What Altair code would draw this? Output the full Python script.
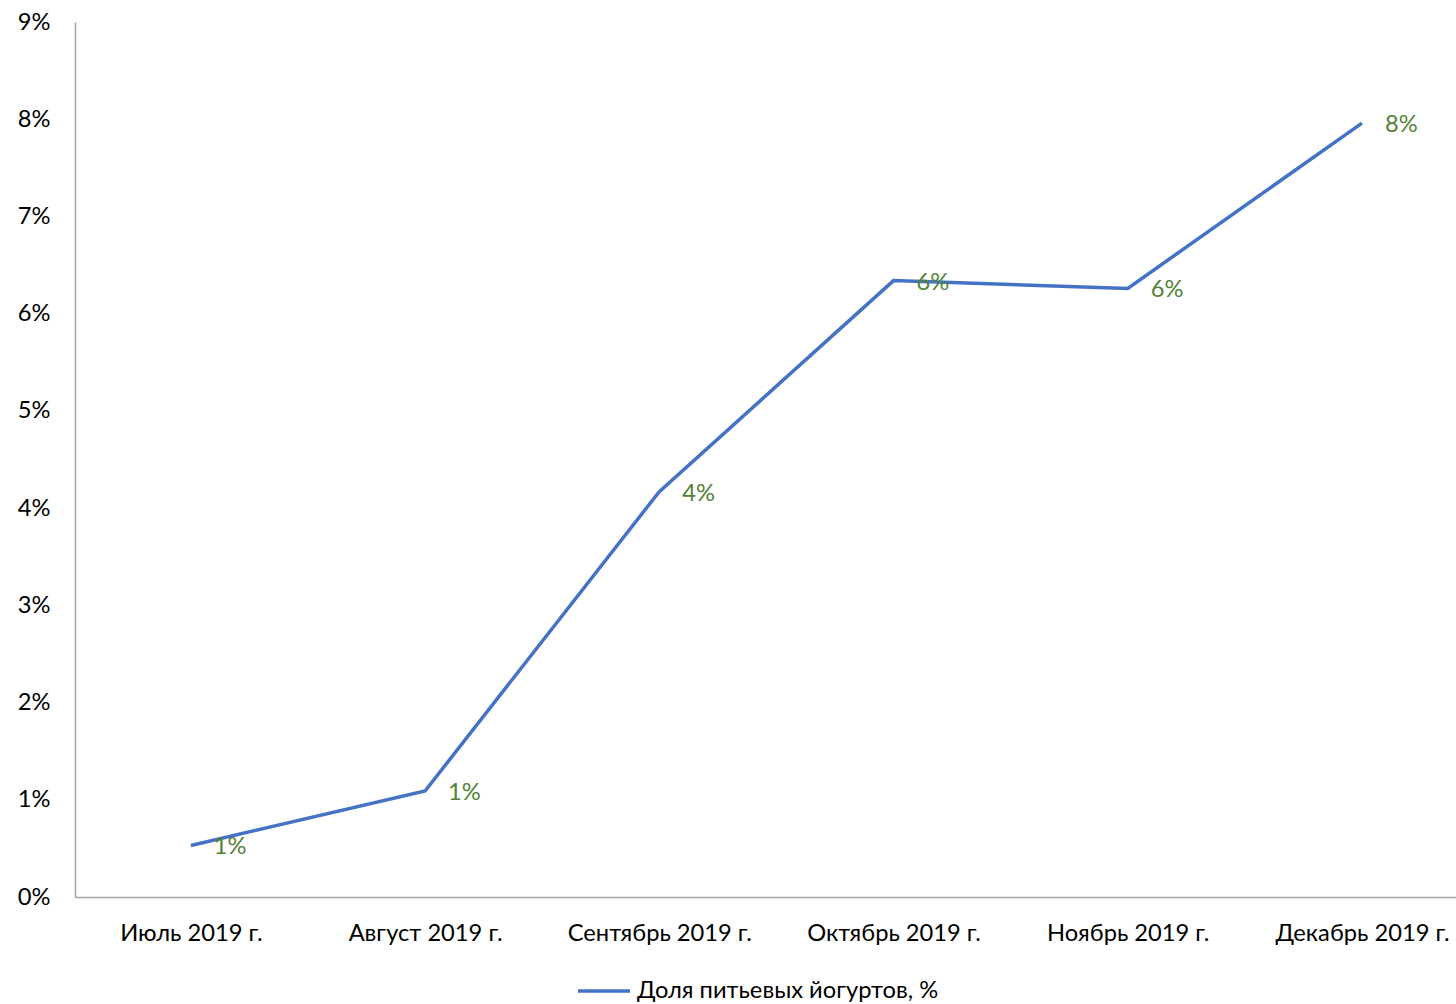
import altair as alt
import pandas as pd

months = ["Июль 2019 г.", "Август 2019 г.", "Сентябрь 2019 г.", "Октябрь 2019 г.", "Ноябрь 2019 г.", "Декабрь 2019 г."]
share = [0.0053, 0.0109, 0.0417, 0.0634, 0.0626, 0.0796]
series_name = "Доля питьевых йогуртов, %"
y_ticks = [0, 0.01, 0.02, 0.03, 0.04, 0.05, 0.06, 0.07, 0.08, 0.09]

df = pd.DataFrame({"month": months, "share": share, "series": [series_name] * len(months)})

FONT = "Lato"
FS = 23.7

x_enc = alt.X("month:N", sort=months,
              scale=alt.Scale(type="point", padding=0.448, align=0.552),
              axis=alt.Axis(title=None, labelAngle=0, labelFont=FONT, labelFontSize=FS,
                            labelColor="#000000", labelPadding=36, labelBaseline="middle",
                            ticks=False, domainColor="#A6A6A6", domainWidth=1.5,
                            grid=False, labelOverlap=False, labelLimit=0))
y_enc = alt.Y("share:Q", scale=alt.Scale(domain=[0, 0.09], nice=False),
              axis=alt.Axis(title=None, format=".0%", values=y_ticks, labelFont=FONT,
                            labelFontSize=FS, labelColor="#000000", labelPadding=25,
                            ticks=False, domainColor="#A6A6A6", domainWidth=1.5,
                            grid=False, labelBaseline="middle", labelLimit=0))

line = alt.Chart(df).mark_line(strokeWidth=3.5).encode(
    x=x_enc, y=y_enc,
    color=alt.Color("series:N", scale=alt.Scale(domain=[series_name], range=["#4472C4"]),
                    legend=alt.Legend(title=None, orient="none", legendX=501, legendY=941,
                                      symbolType="stroke", symbolSize=2704,
                                      symbolStrokeWidth=3.5, symbolStrokeColor="#4472C4",
                                      labelFont=FONT, labelLimit=0,
                                      labelFontSize=FS, labelColor="#000000",
                                      labelOffset=5, padding=0)),
)

labels = alt.Chart(df).mark_text(align="left", baseline="middle", dx=23, dy=2, font=FONT,
                                 fontSize=FS, color="#548235").encode(
    x=alt.X("month:N", sort=months), y="share:Q",
    text=alt.Text("share:Q", format=".0%"),
)

chart = (line + labels).properties(
    width=1381, height=875,
    autosize=alt.AutoSizeParams(type="none"),
    padding={"left": 75, "top": 22, "right": 0, "bottom": 107},
    background="white",
).configure_view(stroke=None, strokeWidth=0)

chart.save("out.html", embed_options={"renderer": "svg", "actions": False})
